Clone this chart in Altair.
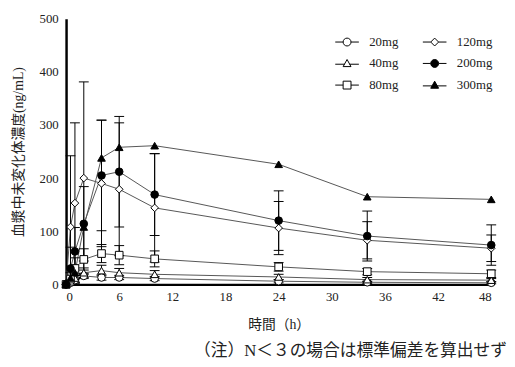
import altair as alt
import pandas as pd
import numpy as np

times = [0, 0.5, 1, 2, 4, 6, 10, 24, 34, 48]
doses = ["20mg", "40mg", "80mg", "120mg", "200mg", "300mg"]

mean_20 = [0, 3, 8, 16, 13, 13, 11, 6, 4, 3]
mean_40 = [0, 5, 12, 22, 26, 22, 19, 14, 9, 8]
mean_80 = [0, 10, 30, 47, 58, 55, 48, 33, 24, 20]
mean_120 = [0, 108, 153, 200, 190, 179, 144, 106, 83, 68]
mean_200 = [0, 30, 62, 114, 205, 212, 169, 120, 91, 74]
mean_300 = [0, 12, 22, 108, 238, 258, 261, 226, 165, 160]

sd_20 = [None, 3, 4, 5, 5, 4, 4, 3, 2, 2]
sd_40 = [None, 4, 8, 9, 10, 8, 7, 5, 4, 3]
sd_80 = [None, 12, 20, 20, 17, 18, 15, 8, 6, 7]
sd_120 = [None, 134, 151, 181, 119, 125, 102, 50, 35, 25]
sd_200 = [None, 40, 45, 70, 104, 104, 77, 56, 47, 38]
sd_300 = [None] * 10

means = dict(zip(doses, [mean_20, mean_40, mean_80, mean_120, mean_200, mean_300]))
sds = dict(zip(doses, [sd_20, sd_40, sd_80, sd_120, sd_200, sd_300]))

rows = []
for d in doses:
    for t, m, s in zip(times, means[d], sds[d]):
        rows.append(dict(dose=d, t=t, mean=m, sd=np.nan if s is None else s))
df = pd.DataFrame(rows)
df["lo"] = (df["mean"] - df["sd"]).clip(lower=0)
df["hi"] = df["mean"] + df["sd"]
err = df.dropna(subset=["sd"]).copy()
caps = pd.concat([
    err[["t", "hi"]].rename(columns={"hi": "v"}),
    err.loc[err["lo"] > 0, ["t", "lo"]].rename(columns={"lo": "v"}),
])

SERIF = "'Liberation Serif', 'DejaVu Serif', 'Noto Sans CJK JP', serif"

x_enc = alt.X("t:Q", scale=alt.Scale(domain=[0, 48], nice=False),
              axis=alt.Axis(values=[0, 6, 12, 18, 24, 30, 36, 42, 48], title="時間（h）",
                            ticks=False, grid=False, domainWidth=2.5, domainColor="black",
                            labelFont=SERIF, labelFontSize=13, labelColor="#222", labelPadding=6,
                            titleFont=SERIF, titleFontSize=14, titleFontWeight="normal",
                            titleColor="#222", titlePadding=15))
y_enc = alt.Y("mean:Q", scale=alt.Scale(domain=[0, 500], nice=False),
              axis=alt.Axis(values=[0, 100, 200, 300, 400, 500], title="血漿中未変化体濃度(ng/mL)",
                            ticks=False, grid=False, domainWidth=2.5, domainColor="black",
                            labelFont=SERIF, labelFontSize=13, labelColor="#222", labelPadding=8,
                            titleFont=SERIF, titleFontSize=14, titleFontWeight="normal",
                            titleColor="#222", titlePadding=14))

base = alt.Chart(df)

lines = base.mark_line(color="#555", strokeWidth=1).encode(x=x_enc, y=y_enc, detail="dose:N")

bars = alt.Chart(err).mark_rule(color="black", strokeWidth=1).encode(
    x="t:Q", y="lo:Q", y2="hi:Q")

capmarks = alt.Chart(caps).mark_point(shape="M-1,0L1,0", size=100, color="black",
                                      strokeWidth=1, filled=False, opacity=1).encode(
    x="t:Q", y="v:Q")

shape_range = ["circle", "triangle-up", "square", "diamond", "circle", "triangle-up"]
fill_range = ["white", "white", "white", "white", "black", "black"]

points = base.mark_point(size=60, strokeWidth=1, filled=True, stroke="black", opacity=1).encode(
    x="t:Q", y="mean:Q",
    shape=alt.Shape("dose:N", scale=alt.Scale(domain=doses, range=shape_range), legend=None),
    fill=alt.Fill("dose:N", scale=alt.Scale(domain=doses, range=fill_range), legend=None),
)

stub_circle = "M-3,0H-1M1,0H3M-1,0A1,1 0 1,0 1,0A1,1 0 1,0 -1,0Z"
stub_tri = "M-3,0.2H-0.6M0.6,0.2H3M0,-1L1,0.8L-1,0.8Z"
stub_sq = "M-3,0H-1M1,0H3M-1,-1H1V1H-1Z"
stub_dia = "M-3,0H-1M1,0H3M0,-1L1,0L0,1L-1,0Z"
leg_shapes = [stub_circle, stub_tri, stub_sq, stub_dia, stub_circle, stub_tri]

legend = alt.Legend(title=None, orient="none", legendX=279, legendY=17, columns=2,
                    columnPadding=22, rowPadding=8, symbolSize=64, labelOffset=16,
                    labelFont=SERIF, labelFontSize=13, labelColor="#222", padding=0,
                    symbolStrokeWidth=1, symbolOpacity=1)

legend_layer = base.transform_filter("false").mark_point(
    size=60, strokeWidth=1, filled=False, opacity=1).encode(
    x="t:Q", y="mean:Q",
    shape=alt.Shape("dose:N", scale=alt.Scale(domain=doses, range=leg_shapes), legend=legend),
    fill=alt.Fill("dose:N", scale=alt.Scale(domain=doses, range=fill_range), legend=legend),
    stroke=alt.Stroke("dose:N", scale=alt.Scale(domain=doses, range=["black"] * 6), legend=legend),
)

chart = alt.layer(lines, bars, capmarks, points, legend_layer).resolve_scale(
    shape="independent", fill="independent", stroke="independent"
).properties(
    width=432, height=270, autosize="none",
    padding={"left": 59, "top": 8, "right": 16, "bottom": 75},
    title=alt.TitleParams("（注）N＜３の場合は標準偏差を算出せず", orient="bottom", anchor="end",
                          frame="group", font=SERIF, fontSize=17, fontWeight="normal",
                          color="#222", offset=12, dx=16),
).configure_view(stroke=None)

chart.save("out.html", embed_options={"renderer": "svg", "actions": False})
